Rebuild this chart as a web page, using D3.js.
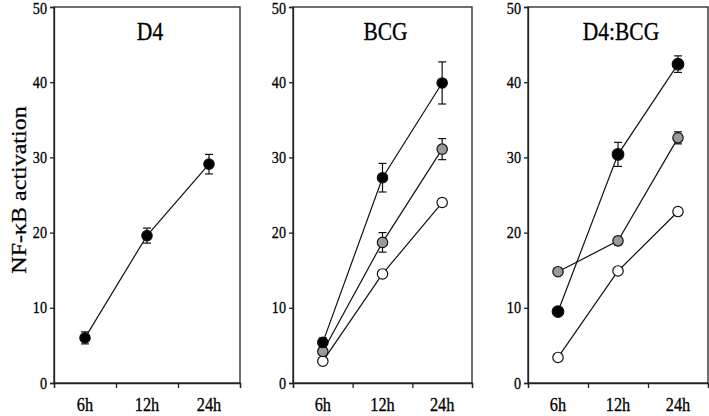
<!DOCTYPE html>
<html>
<head>
<meta charset="utf-8">
<script src="https://cdn.jsdelivr.net/npm/d3@7.9.0/dist/d3.min.js"></script>
<style>
  body { margin: 0; background: #fff; }
  svg { display: block; font-family: "Liberation Serif", "DejaVu Serif", serif; }
</style>
</head>
<body>
<svg id="chart" width="709" height="416"></svg>
<script>
const times = ["6h", "12h", "24h"];
const yTicks = [0, 10, 20, 30, 40, 50];

// D4
const d4Black = [6.0, 19.6, 29.1];
const d4BlackErr = [0.8, 1.0, 1.3];

// BCG
const bcgBlack = [5.4, 27.3, 39.9];
const bcgBlackErr = [0.6, 1.9, 2.8];
const bcgGray = [4.2, 18.7, 31.1];
const bcgGrayErr = [0.5, 1.3, 1.4];
const bcgWhite = [2.9, 14.5, 24.0];
const bcgWhiteErr = [0.2, 0.2, 0.5];

// D4:BCG
const dbBlack = [9.5, 30.4, 42.4];
const dbBlackErr = [0.3, 1.6, 1.1];
const dbGray = [14.8, 18.9, 32.6];
const dbGrayErr = [0.4, 0.5, 0.8];
const dbWhite = [3.4, 14.9, 22.8];
const dbWhiteErr = [0.2, 0.2, 0.5];

const fills = { black: "#000", gray: "#9a9a9a", white: "#fff" };

const panels = [
  { title: "D4", left: 54, right: 240, series: [
    { kind: "black", values: d4Black, err: d4BlackErr }
  ]},
  { title: "BCG", left: 293, right: 472, series: [
    { kind: "white", values: bcgWhite, err: bcgWhiteErr },
    { kind: "gray", values: bcgGray, err: bcgGrayErr },
    { kind: "black", values: bcgBlack, err: bcgBlackErr }
  ]},
  { title: "D4:BCG", left: 528, right: 708, series: [
    { kind: "white", values: dbWhite, err: dbWhiteErr },
    { kind: "gray", values: dbGray, err: dbGrayErr },
    { kind: "black", values: dbBlack, err: dbBlackErr, r: 5.8 }
  ]}
];

const plotTop = 7, plotBottom = 383;
const sx = 0.86; // the source is a bit squeezed sideways
const svg = d3.select("#chart");

const y = d3.scaleLinear().domain([0, 50]).range([plotBottom, plotTop]);

function addText(g, x, yy, str, size, anchor, rotate) {
  return g.append("text")
    .attr("transform", `translate(${x},${yy})` + (rotate ? ` rotate(${rotate})` : "") + ` scale(${rotate ? 1 : sx},${rotate ? sx : 1})`)
    .attr("text-anchor", anchor)
    .attr("font-size", size)
    .attr("fill", "#000")
    .attr("stroke", "#000").attr("stroke-width", 0.3)
    .text(str);
}

panels.forEach(p => {
  const g = svg.append("g");
  const x = d3.scaleBand().domain(times).range([p.left, p.right]);
  const xb = d3.scaleLinear().domain([0, 3]).range([p.left, p.right]);

  // box
  g.append("rect")
    .attr("x", p.left).attr("y", plotTop)
    .attr("width", p.right - p.left).attr("height", plotBottom - plotTop)
    .attr("fill", "none").attr("stroke", "#222").attr("stroke-width", 1.3);

  // y axis
  const ya = g.append("g").attr("transform", `translate(${p.left},0)`)
    .call(d3.axisLeft(y).tickValues(yTicks).tickSize(4).tickFormat(""));
  ya.selectAll("path, line").attr("stroke", "#222").attr("stroke-width", 1.3);
  yTicks.forEach(t => {
    addText(g, p.left - 7, Math.max(y(t) + 5.5, 14), t, 16.5, "end");
  });

  // x axis ticks at band edges
  const xa = g.append("g").attr("transform", `translate(0,${plotBottom})`)
    .call(d3.axisBottom(xb).tickValues([0, 1, 2, 3]).tickSize(5).tickFormat(""));
  xa.selectAll("path, line").attr("stroke", "#222").attr("stroke-width", 1.3);
  times.forEach(t => {
    addText(g, x(t) + x.bandwidth() / 2, 411, t, 19, "middle");
  });

  // title
  addText(g, (p.left + p.right) / 2 + 3, 40, p.title, 25, "middle");

  const cx = t => x(t) + x.bandwidth() / 2;
  const line = d3.line().x((d, i) => cx(times[i])).y(d => y(d));

  p.series.forEach(s => {
    g.append("path").datum(s.values)
      .attr("d", line).attr("fill", "none")
      .attr("stroke", "#111").attr("stroke-width", 1.2);
  });

  p.series.forEach(s => {
    const pts = s.values.map((v, i) => ({ t: times[i], v, e: s.err[i] }));
    const eb = g.append("g");
    pts.forEach(d => {
      const x0 = cx(d.t);
      eb.append("line").attr("x1", x0).attr("x2", x0)
        .attr("y1", y(d.v - d.e)).attr("y2", y(d.v + d.e));
      [d.v - d.e, d.v + d.e].forEach(v => {
        eb.append("line").attr("x1", x0 - 4).attr("x2", x0 + 4)
          .attr("y1", y(v)).attr("y2", y(v));
      });
    });
    eb.selectAll("line").attr("stroke", "#111").attr("stroke-width", 1.2);

    g.append("g").selectAll("circle").data(pts).join("circle")
      .attr("cx", d => cx(d.t)).attr("cy", d => y(d.v))
      .attr("r", s.r || 5.2)
      .attr("fill", fills[s.kind])
      .attr("stroke", "#111").attr("stroke-width", 1.2);
  });
});

// y label
addText(svg, 26, 190, "NF-\u03baB activation", 24, "middle", -90);
</script>
</body>
</html>
